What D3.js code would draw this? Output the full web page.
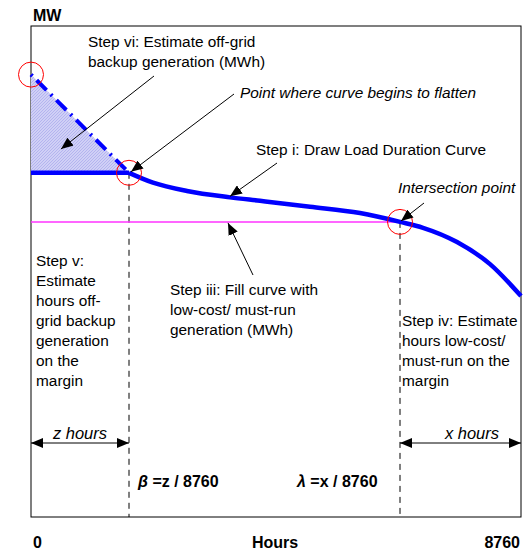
<!DOCTYPE html>
<html>
<head>
<meta charset="utf-8">
<script src="https://cdn.jsdelivr.net/npm/d3@7"></script>
<style>
  body { margin: 0; background: #fff; }
  text { font-family: "Liberation Sans", Arial, sans-serif; }
</style>
</head>
<body>
<svg id="plot"></svg>
<script>
// Load duration curve (hours sorted, MW)
const curveHours = [1752, 2181, 2789, 3558, 4094, 4988, 5882, 6597, 7008, 7616, 8206, 8760];
const curveMW = [70.1, 68.1, 66.4, 65.1, 64.4, 63.2, 61.9, 60.1, 58.9, 56.0, 51.5, 45.0];
const peakMW = 90.1;      // off-grid backup peak
const plateauMW = 70.1;   // where curve begins to flatten
const mustRunMW = 60.1;   // low-cost / must-run level
const zHours = 1752;
const xStartHours = 6597;
const totalHours = 8760;

const svg = d3.select("#plot");
const width = 526;
const height = 551;
svg.attr("width", width).attr("height", height);

const plotLeft = 31, plotRight = 521, plotTop = 26, plotBottom = 517;

const xScale = d3.scaleLinear().domain([0, totalHours]).range([plotLeft, plotRight]);
const yScale = d3.scaleLinear().domain([0, 100]).range([plotBottom, plotTop]);

// markers
const defs = svg.append("defs");
defs.append("marker")
    .attr("id", "head")
    .attr("markerUnits", "userSpaceOnUse")
    .attr("viewBox", "0 0 12 10")
    .attr("refX", 12).attr("refY", 5)
    .attr("markerWidth", 12).attr("markerHeight", 10)
    .attr("orient", "auto")
    .append("path").attr("d", "M0,0 L12,5 L0,10 Z").attr("fill", "#000");
defs.append("marker")
    .attr("id", "tail")
    .attr("markerUnits", "userSpaceOnUse")
    .attr("viewBox", "0 0 12 10")
    .attr("refX", 0).attr("refY", 5)
    .attr("markerWidth", 12).attr("markerHeight", 10)
    .attr("orient", "auto")
    .append("path").attr("d", "M12,0 L0,5 L12,10 Z").attr("fill", "#000");

const hatch = defs.append("pattern")
    .attr("id", "hatch")
    .attr("patternUnits", "userSpaceOnUse")
    .attr("width", 3).attr("height", 3);
hatch.append("rect").attr("width", 3).attr("height", 3).attr("fill", "#d0d0f6");
hatch.append("path").attr("d", "M0,3 L3,0").attr("stroke", "#a8a8ec").attr("stroke-width", 0.7);

// frame
svg.append("rect")
    .attr("x", plotLeft).attr("y", plotTop)
    .attr("width", plotRight - plotLeft).attr("height", plotBottom - plotTop)
    .attr("fill", "none").attr("stroke", "#000").attr("stroke-width", 1);

// backup triangle
svg.append("path")
    .attr("d", d3.line()([
        [xScale(0), yScale(peakMW)],
        [xScale(zHours), yScale(plateauMW)],
        [xScale(0), yScale(plateauMW)]
    ]) + "Z")
    .attr("fill", "url(#hatch)");

// vertical dashed lines
[[zHours, plateauMW], [xStartHours, mustRunMW]].forEach(([h, v]) => {
    svg.append("line")
        .attr("x1", xScale(h)).attr("x2", xScale(h))
        .attr("y1", yScale(v)).attr("y2", plotBottom)
        .attr("stroke", "#000").attr("stroke-width", 1)
        .attr("stroke-dasharray", "6,5");
});

// must-run line
svg.append("line")
    .attr("x1", xScale(0)).attr("x2", xScale(xStartHours))
    .attr("y1", yScale(mustRunMW)).attr("y2", yScale(mustRunMW))
    .attr("stroke", "#ff33ff").attr("stroke-width", 1.5);

// backup dash-dot line
svg.append("line")
    .attr("x1", xScale(0)).attr("y1", yScale(peakMW))
    .attr("x2", xScale(zHours)).attr("y2", yScale(plateauMW))
    .attr("stroke", "#0000ff").attr("stroke-width", 4)
    .attr("stroke-dasharray", "2,6,14,6");

// flat part
svg.append("line")
    .attr("x1", xScale(0)).attr("y1", yScale(plateauMW))
    .attr("x2", xScale(zHours)).attr("y2", yScale(plateauMW))
    .attr("stroke", "#0000ff").attr("stroke-width", 4.5);

// load duration curve
const line = d3.line()
    .x((d, i) => xScale(curveHours[i]))
    .y((d) => yScale(d))
    .curve(d3.curveMonotoneX);
svg.append("path")
    .attr("d", line(curveMW))
    .attr("fill", "none")
    .attr("stroke", "#0000ff")
    .attr("stroke-width", 4.5);

// red circles
[[0, peakMW], [zHours, plateauMW], [xStartHours, mustRunMW]].forEach(([h, v]) => {
    svg.append("circle")
        .attr("cx", xScale(h)).attr("cy", yScale(v)).attr("r", 12.5)
        .attr("fill", "none").attr("stroke", "#ff0000").attr("stroke-width", 1);
});

// arrows
function arrow(x1, y1, x2, y2) {
    svg.append("line")
        .attr("x1", x1).attr("y1", y1).attr("x2", x2).attr("y2", y2)
        .attr("stroke", "#000").attr("stroke-width", 1)
        .attr("marker-end", "url(#head)");
}
arrow(154, 76, 61, 149);
arrow(234, 94, xScale(zHours) + 2, yScale(plateauMW) - 1);
arrow(277, 163, xScale(3558), yScale(65.1) - 1);
arrow(424, 203, xScale(xStartHours) + 1, yScale(mustRunMW) - 1);
arrow(253, 275, 228, yScale(mustRunMW) + 1);

// double arrows
[[0, zHours], [xStartHours, totalHours]].forEach(([a, b]) => {
    svg.append("line")
        .attr("x1", xScale(a)).attr("x2", xScale(b))
        .attr("y1", 443).attr("y2", 443)
        .attr("stroke", "#000").attr("stroke-width", 1)
        .attr("marker-start", "url(#tail)")
        .attr("marker-end", "url(#head)");
});

// texts
function textBlock(x, y, lines, opts = {}) {
    const t = svg.append("text")
        .attr("x", x).attr("y", y)
        .attr("font-size", opts.size || 15.4)
        .attr("font-style", opts.italic ? "italic" : "normal")
        .attr("font-weight", opts.bold ? "bold" : "normal")
        .attr("text-anchor", opts.anchor || "start")
        .attr("fill", "#000");
    lines.forEach((l, i) => {
        t.append("tspan").attr("x", x).attr("dy", i === 0 ? 0 : 20).text(l);
    });
    return t;
}

textBlock(33, 21, ["MW"], { bold: true, size: 16 });
textBlock(88, 47, ["Step vi: Estimate off-grid", "backup generation (MWh)"]);
textBlock(240, 98, ["Point where curve begins to flatten"], { italic: true });
textBlock(256, 155, ["Step i: Draw Load Duration Curve"]);
textBlock(398, 193, ["Intersection point"], { italic: true });
textBlock(36, 266, ["Step v:", "Estimate", "hours off-", "grid backup", "generation", "on the", "margin"]);
textBlock(170, 295, ["Step iii: Fill curve with", "low-cost/ must-run", "generation (MWh)"]);
textBlock(402, 326, ["Step iv: Estimate", "hours low-cost/", "must-run on the", "margin"]);
textBlock(80, 439, ["z hours"], { italic: true, anchor: "middle", size: 16.5 });
textBlock(472, 439, ["x hours"], { italic: true, anchor: "middle", size: 16.5 });

const beta = svg.append("text").attr("x", 138).attr("y", 487)
    .attr("font-size", 16).attr("font-weight", "bold");
beta.append("tspan").attr("font-style", "italic").text("β");
beta.append("tspan").text(" =z / 8760");
const lambda = svg.append("text").attr("x", 297).attr("y", 487)
    .attr("font-size", 16).attr("font-weight", "bold");
lambda.append("tspan").attr("font-style", "italic").text("λ");
lambda.append("tspan").text(" =x / 8760");

textBlock(33, 548, ["0"], { bold: true, size: 16 });
textBlock(275, 548, ["Hours"], { bold: true, anchor: "middle", size: 16 });
textBlock(520, 548, ["8760"], { bold: true, anchor: "end", size: 16 });
</script>
</body>
</html>
